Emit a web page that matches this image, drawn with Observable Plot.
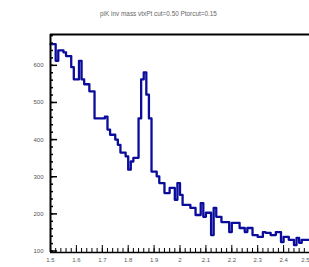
<!DOCTYPE html>
<html>
<head>
<meta charset="utf-8">
<script src="https://cdn.jsdelivr.net/npm/d3@7"></script>
<script src="https://cdn.jsdelivr.net/npm/@observablehq/plot@0.6"></script>
<style>
  html, body { margin: 0; padding: 0; background: #fff; overflow: hidden; }
  #chart { position: relative; width: 309px; height: 267px; }
  #title { position: absolute; left: 0; top: 10px; width: 309px; text-align: center;
           font-family: "Liberation Sans", Arial, sans-serif; font-size: 6.4px; color: #666; padding-left: 4px; }
  svg { display: block; }
</style>
</head>
<body>
<div id="chart"><div id="title"></div></div>
<script>
const titleText = "piK inv mass vtxPt cut=0.50  Ptorcut=0.15";
const xMin = 1.5, xMax = 2.5, binWidth = 0.01;
const yMin = 96, yMax = 683;
const counts = [
  657, 657, 612, 640, 640, 635, 625, 625, 595, 562,
  562, 612, 562, 549, 549, 530, 530, 457, 457, 457,
  457, 462, 427, 413, 413, 400, 386, 365, 365, 355,
  319, 341, 351, 351, 457, 562, 581, 521, 457, 314,
  314, 301, 283, 283, 256, 256, 270, 270, 238, 283,
  251, 224, 224, 224, 216, 216, 197, 197, 229, 192,
  203, 203, 143, 216, 192, 192, 178, 178, 178, 151,
  176, 176, 176, 162, 162, 151, 162, 162, 143, 143,
  138, 138, 151, 149, 149, 143, 143, 151, 151, 124,
  138, 138, 130, 130, 116, 135, 122, 130, 130, 130
];
const xMajor = [1.5, 1.6, 1.7, 1.8, 1.9, 2.0, 2.1, 2.2, 2.3, 2.4, 2.5];
const yMajor = [100, 200, 300, 400, 500, 600];

const edges = counts.map((c, i) => ({x: xMin + i * binWidth, y: c}));
const pts = edges.concat([{x: xMax, y: counts[counts.length - 1]}]);
const xMinor = d3.range(0, 51).map(i => +(xMin + i * 0.02).toFixed(3));
const yMinor = d3.range(100, 681, 20);

document.getElementById("title").textContent = titleText;

const fmt = d => d3.format("~g")(d);
const chart = Plot.plot({
  width: 309,
  height: 267,
  marginLeft: 50,
  marginRight: 0,
  marginTop: 34,
  marginBottom: 15,
  style: {fontFamily: "Liberation Sans, Arial, sans-serif", fontSize: "6px", background: "transparent"},
  x: {domain: [xMin, xMax], axis: null},
  y: {domain: [yMin, yMax], axis: null},
  marks: [
    Plot.line(pts, {x: "x", y: "y", curve: "step-after", stroke: "#0b0b9c", strokeWidth: 2.3}),
    Plot.axisX({ticks: xMinor, tickSize: -4, tickFormat: () => "", label: null, stroke: "#000", strokeWidth: 1}),
    Plot.axisX({ticks: xMajor, tickSize: -7, tickFormat: () => "", label: null, stroke: "#000", strokeWidth: 1}),
    Plot.axisX({ticks: xMajor.slice(0, -1), tickSize: 0, tickPadding: 5, tickFormat: fmt, label: null, fill: "#555"}),
    Plot.axisX({ticks: xMajor.slice(-1), tickSize: 0, tickPadding: 5, tickFormat: fmt, label: null, fill: "#555", textAnchor: "end"}),
    Plot.axisY({ticks: yMinor, tickSize: -3, tickFormat: () => "", label: null, stroke: "#000", strokeWidth: 1.5}),
    Plot.axisY({ticks: yMajor, tickSize: -7, tickFormat: () => "", label: null, stroke: "#000", strokeWidth: 1.5}),
    Plot.axisY({ticks: yMajor, tickSize: 0, tickPadding: 7, label: null, fill: "#555"}),
    Plot.ruleY([yMax], {stroke: "#000", strokeWidth: 2}),
    Plot.ruleY([yMin], {stroke: "#000", strokeWidth: 1.5}),
    Plot.ruleX([xMin], {stroke: "#000", strokeWidth: 2})
  ]
});
chart.style.position = "absolute";
chart.style.left = "0";
chart.style.top = "0";
document.getElementById("chart").appendChild(chart);
</script>
</body>
</html>
